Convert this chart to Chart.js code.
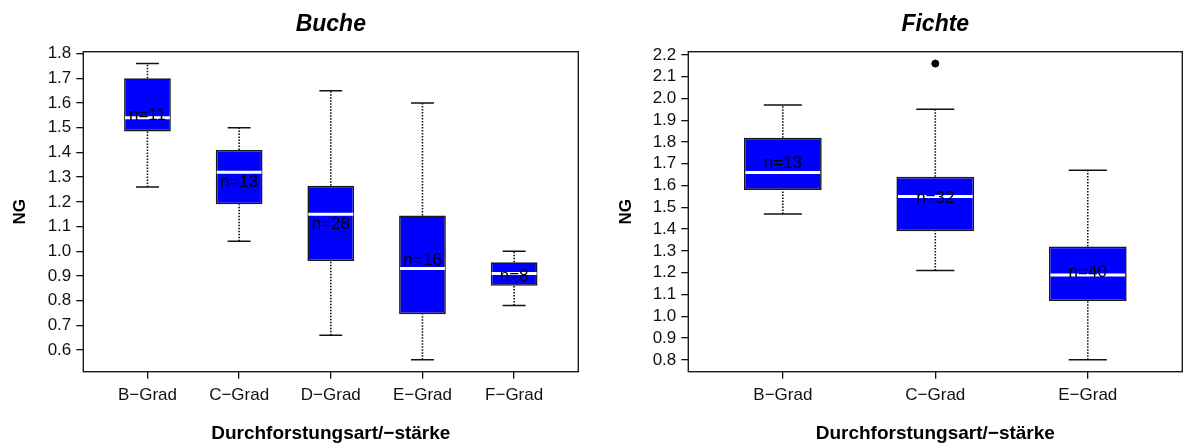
<!DOCTYPE html>
<html>
<head>
<meta charset="utf-8">
<script src="https://cdn.jsdelivr.net/npm/chart.js@4.4.1/dist/chart.umd.min.js"></script>
<style>
  html, body { margin: 0; padding: 0; background: #fff; }
  #wrap { position: relative; width: 1183px; height: 445px; overflow: hidden; }
  canvas { position: absolute; top: 0; }
</style>
</head>
<body>
<div id="wrap">
  <canvas id="buche" width="590" height="445" style="left:0"></canvas>
  <canvas id="fichte" width="593" height="445" style="left:590px"></canvas>
</div>
<script>
// Buche (beech): five thinning grades
const bucheCategories   = ['B−Grad', 'C−Grad', 'D−Grad', 'E−Grad', 'F−Grad'];
const bucheWhiskerLow   = [1.26, 1.04, 0.66, 0.56, 0.78];
const bucheQ1           = [1.485, 1.19, 0.96, 0.745, 0.86];
const bucheMedian       = [1.54, 1.32, 1.15, 0.93, 0.91];
const bucheQ3           = [1.70, 1.41, 1.265, 1.145, 0.955];
const bucheWhiskerHigh  = [1.76, 1.50, 1.65, 1.60, 1.00];
const bucheN            = [11, 13, 28, 16, 8];
const bucheMean         = [1.55, 1.28, 1.11, 0.965, 0.90];
const bucheOutlierCat   = [];
const bucheOutlierValue = [];
const bucheYTicks       = [0.6, 0.7, 0.8, 0.9, 1.0, 1.1, 1.2, 1.3, 1.4, 1.5, 1.6, 1.7, 1.8];

// Fichte (spruce): three thinning grades
const fichteCategories   = ['B−Grad', 'C−Grad', 'E−Grad'];
const fichteWhiskerLow   = [1.47, 1.21, 0.80];
const fichteQ1           = [1.58, 1.39, 1.07];
const fichteMedian       = [1.66, 1.55, 1.19];
const fichteQ3           = [1.82, 1.64, 1.32];
const fichteWhiskerHigh  = [1.97, 1.95, 1.67];
const fichteN            = [13, 32, 40];
const fichteMean         = [1.70, 1.54, 1.20];
const fichteOutlierCat   = ['C−Grad'];
const fichteOutlierValue = [2.16];
const fichteYTicks       = [0.8, 0.9, 1.0, 1.1, 1.2, 1.3, 1.4, 1.5, 1.6, 1.7, 1.8, 1.9, 2.0, 2.1, 2.2];

const xTitle = 'Durchforstungsart/−stärke';
const yTitle = 'NG';

Chart.defaults.font.family = "'Liberation Sans', Arial, Helvetica, sans-serif";
Chart.defaults.color = '#111';

function boxplotChart(canvasId, title, s, layout) {
  const n = s.cats.length;
  const capHalf = 0.125;   // whisker cap half-width in category units
  const medHalf = 0.245;   // median bar half-width in category units

  // R-style axis limits: data range padded by 4 %
  const all = s.lo.concat(s.hi, s.outVal);
  const dMin = Math.min(...all), dMax = Math.max(...all);
  const yPad = (dMax - dMin) * 0.04;
  const xPad = n * 0.04;

  const whiskers = [], caps = [], medians = [];
  s.cats.forEach((c, i) => {
    const x = i + 1;
    whiskers.push({x, y: s.lo[i]}, {x, y: s.q1[i]}, {x, y: null},
                  {x, y: s.q3[i]}, {x, y: s.hi[i]}, {x, y: null});
    caps.push({x: x - capHalf, y: s.lo[i]}, {x: x + capHalf, y: s.lo[i]}, {x, y: null},
              {x: x - capHalf, y: s.hi[i]}, {x: x + capHalf, y: s.hi[i]}, {x, y: null});
    medians.push({x: x - medHalf, y: s.med[i]}, {x: x + medHalf, y: s.med[i]}, {x, y: null});
  });
  const boxes = s.cats.map((c, i) => ({x: i + 1, y: [s.q1[i], s.q3[i]]}));
  const outliers = s.outCat.map((c, i) => ({x: s.cats.indexOf(c) + 1, y: s.outVal[i]}));

  const frame = {
    id: 'frame',
    afterDraw(chart) {
      const {ctx, chartArea: a} = chart;
      ctx.save();
      ctx.strokeStyle = '#1a1a1a';
      ctx.lineWidth = 1.4;
      ctx.strokeRect(a.left, a.top, a.right - a.left, a.bottom - a.top);
      ctx.restore();
    }
  };
  const countLabels = {
    id: 'countLabels',
    afterDatasetsDraw(chart) {
      const {ctx, scales: {x, y}} = chart;
      ctx.save();
      ctx.font = "17px 'Liberation Sans', Arial, sans-serif";
      ctx.fillStyle = '#000';
      ctx.textAlign = 'center';
      ctx.textBaseline = 'middle';
      s.cats.forEach((c, i) => {
        ctx.fillText('n=' + s.nObs[i], x.getPixelForValue(i + 1), y.getPixelForValue(s.mean[i]));
      });
      ctx.restore();
    }
  };

  return new Chart(document.getElementById(canvasId), {
    type: 'bar',
    data: {
      datasets: [
        { type: 'line', data: medians, borderColor: '#ffffff', borderWidth: 3,
          pointRadius: 0, spanGaps: false, order: 1 },
        { type: 'scatter', data: outliers, pointRadius: 3.5, pointBackgroundColor: '#000',
          pointBorderColor: '#000', order: 1 },
        { type: 'bar', data: boxes, backgroundColor: '#0000ff', borderColor: '#1a1a1a',
          borderWidth: 1.6, borderSkipped: false, barPercentage: 0.51,
          categoryPercentage: 1, order: 2 },
        { type: 'line', data: whiskers, borderColor: '#111', borderWidth: 1.6,
          borderDash: [1.5, 1.5], pointRadius: 0, spanGaps: false, order: 3 },
        { type: 'line', data: caps, borderColor: '#111', borderWidth: 1.5,
          pointRadius: 0, spanGaps: false, order: 3 }
      ]
    },
    options: {
      responsive: false,
      animation: false,
      devicePixelRatio: 1,
      layout: { autoPadding: false, padding: { left: 0, right: layout.right, top: 0, bottom: 0 } },
      plugins: {
        legend: { display: false },
        tooltip: { enabled: false },
        title: {
          display: true, text: title, fullSize: false, color: '#000',
          font: { size: 23, weight: 'bold', style: 'italic' },
          padding: { top: 10.9, bottom: 13.2 }
        }
      },
      scales: {
        x: {
          type: 'linear', offset: false,
          min: 0.5 - xPad, max: n + 0.5 + xPad,
          afterBuildTicks: sc => { sc.ticks = s.cats.map((c, i) => ({value: i + 1})); },
          afterFit: sc => { sc.height = 73.3; },
          ticks: { autoSkip: false, maxRotation: 0, padding: 6, color: '#111',
                   font: { size: 17 },
                   callback: v => s.cats[Math.round(v) - 1] },
          grid: { offset: false, drawOnChartArea: false, drawTicks: true, tickLength: 7,
                  color: '#111', lineWidth: 1.3 },
          border: { display: false },
          title: { display: true, text: xTitle, color: '#000',
                   font: { size: 19, weight: 'bold' }, padding: { top: 0, bottom: 0 } }
        },
        y: {
          min: dMin - yPad, max: dMax + yPad,
          afterBuildTicks: sc => { sc.ticks = s.yTicks.map(v => ({value: v})); },
          afterFit: sc => { sc.width = layout.yWidth; },
          ticks: { autoSkip: false, padding: 5, color: '#111', font: { size: 17 },
                   callback: v => Number(v).toFixed(1) },
          grid: { drawOnChartArea: false, drawTicks: true, tickLength: 7,
                  color: '#111', lineWidth: 1.3 },
          border: { display: false },
          title: { display: true, text: yTitle, color: '#000',
                   font: { size: 17, weight: 'bold' },
                   padding: { top: layout.yTitlePad, bottom: 0 } }
        }
      }
    },
    plugins: [frame, countLabels]
  });
}

boxplotChart('buche', 'Buche', {
  cats: bucheCategories, lo: bucheWhiskerLow, q1: bucheQ1, med: bucheMedian,
  q3: bucheQ3, hi: bucheWhiskerHigh, nObs: bucheN, mean: bucheMean,
  outCat: bucheOutlierCat, outVal: bucheOutlierValue, yTicks: bucheYTicks
}, { yWidth: 83.3, right: 11.7, yTitlePad: 10.3 });

boxplotChart('fichte', 'Fichte', {
  cats: fichteCategories, lo: fichteWhiskerLow, q1: fichteQ1, med: fichteMedian,
  q3: fichteQ3, hi: fichteWhiskerHigh, nObs: fichteN, mean: fichteMean,
  outCat: fichteOutlierCat, outVal: fichteOutlierValue, yTicks: fichteYTicks
}, { yWidth: 98.3, right: 0.7, yTitlePad: 26.5 });
</script>
</body>
</html>
